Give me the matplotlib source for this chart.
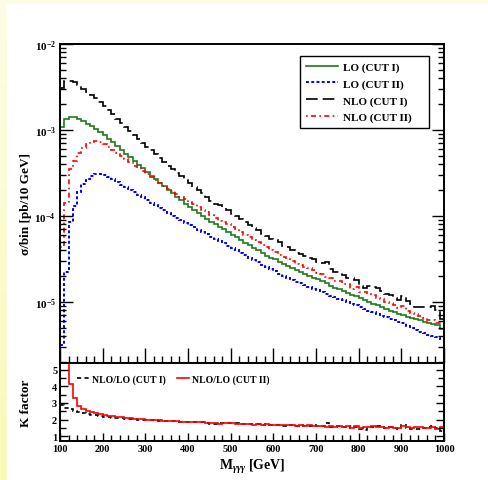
import numpy as np
import matplotlib
matplotlib.use("Agg")
import matplotlib.pyplot as plt
from matplotlib.patches import Rectangle
from matplotlib.ticker import LogLocator, NullFormatter, MultipleLocator

plt.rcParams['font.family'] = ['Liberation Serif', 'DejaVu Serif']
plt.rcParams['font.weight'] = 'bold'
plt.rcParams['mathtext.fontset'] = 'custom'
plt.rcParams['mathtext.rm'] = 'Liberation Serif:bold'
plt.rcParams['mathtext.bf'] = 'Liberation Serif:bold'
plt.rcParams['mathtext.it'] = 'Liberation Serif:italic'

# bin edges, 10 GeV bins from 100 to 1000
edges = np.arange(100, 1001, 10)

# log10 of sigma/bin, one value per bin
lo_cut1_log = [
    -2.97, -2.87, -2.845, -2.85, -2.87, -2.90, -2.925, -2.95, -2.985, -3.02,
    -3.06, -3.10, -3.145, -3.19, -3.235, -3.275, -3.32, -3.36, -3.405, -3.445,
    -3.49, -3.53, -3.57, -3.615, -3.655, -3.695, -3.735, -3.775, -3.815, -3.855,
    -3.89, -3.925, -3.96, -3.995, -4.03, -4.065, -4.095, -4.125, -4.155, -4.185,
    -4.22, -4.25, -4.28, -4.31, -4.34, -4.37, -4.40, -4.43, -4.46, -4.485,
    -4.505, -4.53, -4.555, -4.58, -4.605, -4.63, -4.655, -4.68, -4.70, -4.72,
    -4.735, -4.76, -4.785, -4.81, -4.835, -4.855, -4.875, -4.895, -4.915, -4.935,
    -4.955, -4.975, -4.995, -5.02, -5.04, -5.06, -5.08, -5.10, -5.12, -5.14,
    -5.155, -5.17, -5.185, -5.20, -5.215, -5.23, -5.245, -5.26, -5.27, -5.31]

lo_cut2_log = [
    -5.5, -4.65, -4.07, -3.88, -3.72, -3.63, -3.57, -3.53, -3.51, -3.51,
    -3.525, -3.55, -3.575, -3.605, -3.635, -3.665, -3.695, -3.725, -3.755, -3.785,
    -3.815, -3.845, -3.875, -3.905, -3.935, -3.965, -3.995, -4.025, -4.05, -4.08,
    -4.105, -4.13, -4.16, -4.185, -4.21, -4.24, -4.265, -4.29, -4.32, -4.345,
    -4.37, -4.40, -4.43, -4.455, -4.485, -4.51, -4.54, -4.565, -4.595, -4.62,
    -4.645, -4.67, -4.695, -4.72, -4.745, -4.765, -4.785, -4.805, -4.825, -4.845,
    -4.865, -4.885, -4.905, -4.925, -4.945, -4.96, -4.98, -5.0, -5.02, -5.04,
    -5.06, -5.08, -5.10, -5.12, -5.14, -5.16, -5.18, -5.20, -5.215, -5.23,
    -5.245, -5.285, -5.305, -5.325, -5.345, -5.36, -5.38, -5.395, -5.41, -5.43]

# K factors NLO/LO
k_cut1 = [
    2.85, 2.72, 2.62, 2.53, 2.46, 2.40, 2.34, 2.29, 2.25, 2.21,
    2.18, 2.15, 2.12, 2.10, 2.08, 2.06, 2.04, 2.02, 2.00, 1.99,
    1.97, 1.96, 1.95, 1.94, 1.93, 1.91, 1.90, 1.89, 1.88, 1.86,
    1.86, 1.84, 1.83, 1.83, 1.80, 1.74, 1.70, 1.78, 1.80, 1.79,
    1.77, 1.76, 1.74, 1.72, 1.73, 1.70, 1.72, 1.68, 1.70, 1.67,
    1.66, 1.68, 1.62, 1.66, 1.64, 1.60, 1.65, 1.62, 1.63, 1.66,
    1.58, 1.62, 1.80, 1.56, 1.52, 1.60, 1.55, 1.50, 1.58, 1.55,
    1.40, 1.36, 1.52, 1.56, 1.58, 1.54, 1.50, 1.52, 1.46, 1.44,
    1.68, 1.50, 1.45, 1.40, 1.42, 1.48, 1.52, 1.62, 1.50, 1.30]

k_cut2 = [
    13.8, 6.4, 4.15, 3.28, 2.83, 2.63, 2.52, 2.45, 2.40, 2.35,
    2.28, 2.24, 2.20, 2.17, 2.14, 2.11, 2.08, 2.05, 2.03, 2.01,
    2.00, 1.98, 1.97, 1.95, 1.94, 1.92, 1.91, 1.90, 1.88, 1.87,
    1.86, 1.84, 1.82, 1.82, 1.80, 1.78, 1.76, 1.72, 1.78, 1.79,
    1.76, 1.75, 1.74, 1.73, 1.72, 1.69, 1.71, 1.68, 1.70, 1.69,
    1.68, 1.66, 1.67, 1.64, 1.66, 1.63, 1.65, 1.62, 1.64, 1.63,
    1.58, 1.62, 1.56, 1.60, 1.54, 1.58, 1.55, 1.60, 1.50, 1.62,
    1.48, 1.55, 1.57, 1.58, 1.52, 1.55, 1.50, 1.53, 1.50, 1.46,
    1.58, 1.52, 1.50, 1.53, 1.52, 1.50, 1.48, 1.55, 1.45, 1.55]

lo1 = 10 ** np.array(lo_cut1_log)
lo2 = 10 ** np.array(lo_cut2_log)
nlo1 = lo1 * np.array(k_cut1)
nlo2 = lo2 * np.array(k_cut2)

W, H = 488, 481
fig = plt.figure(figsize=(W / 100, H / 100), dpi=100)

# yellow page with a white sheet on it
bg = fig.add_axes([0, 0, 1, 1], zorder=-10)
grad = np.linspace(0, 1, 256)[:, None]
cmap = matplotlib.colors.LinearSegmentedColormap.from_list('pg', ['#fdfde6', '#f9f9b8'])
bg.imshow(grad, aspect='auto', cmap=cmap, extent=[0, 1, 0, 1])
bg.add_patch(Rectangle((7 / W, 0), 1, 1 - 5 / H, color='white'))
bg.set_xlim(0, 1)
bg.set_ylim(0, 1)
bg.axis('off')

L, R = 60, 444
ax = fig.add_axes([L / W, 1 - 364 / H, (R - L) / W, (364 - 45) / H])
axk = fig.add_axes([L / W, 1 - 442 / H, (R - L) / W, (442 - 364) / H])

ax.stairs(lo1, edges, baseline=None, color='#1c7a1c', lw=1.2, label='LO (CUT I)')
ax.stairs(lo2, edges, baseline=None, color='#0000ff', lw=1.4, ls=(0, (1.5, 1.2)), label='LO (CUT II)')
ax.stairs(nlo1, edges, baseline=None, color='black', lw=1.2, ls=(0, (7, 3)), label='NLO (CUT I)')
ax.stairs(nlo2, edges, baseline=None, color='#ff0000', lw=1.2, ls=(0, (1, 2, 3, 2)), label='NLO (CUT II)')

ax.set_yscale('log')
ax.set_xlim(100, 1000)
ax.set_ylim(10 ** -5.71, 1e-2)
ax.yaxis.set_major_locator(LogLocator(base=10, numticks=10))
ax.yaxis.set_minor_locator(LogLocator(base=10, subs=np.arange(2, 10), numticks=20))
ax.yaxis.set_minor_formatter(NullFormatter())
ax.xaxis.set_major_locator(MultipleLocator(100))
ax.xaxis.set_minor_locator(MultipleLocator(20))
ax.tick_params(axis='x', which='major', direction='in', length=11, width=1, top=False, labelbottom=False)
ax.tick_params(axis='x', which='minor', direction='in', length=5, width=1, top=False)
ax.tick_params(axis='y', which='major', direction='in', length=9, width=1, right=True, labelsize=8, pad=3)
ax.tick_params(axis='y', which='minor', direction='in', length=4.5, width=1, right=True)
ax.set_ylabel('σ/bin [pb/10 GeV]', fontsize=9.5, fontweight='bold')
ax.yaxis.set_label_coords(-0.073, 0.5)

leg = ax.legend(loc='upper left', bbox_to_anchor=(0.625, 0.734, 0.336, 0.228), mode='expand',
                borderaxespad=0, fancybox=False, edgecolor='black', framealpha=1,
                handlelength=2.9, handletextpad=0.5, labelspacing=0.62,
                borderpad=0.5, prop={'weight': 'bold', 'size': 8})
leg.get_frame().set_linewidth(1.0)

axk.stairs(k_cut1, edges, baseline=None, color='black', lw=1.2, ls=(0, (2.5, 2)), label='NLO/LO (CUT I)')
axk.stairs(k_cut2, edges, baseline=None, color='#ff0000', lw=1.2, label='NLO/LO (CUT II)')
axk.set_xlim(100, 1000)
axk.set_ylim(0.7, 5.42)
axk.yaxis.set_major_locator(MultipleLocator(1))
axk.yaxis.set_minor_locator(MultipleLocator(0.5))
axk.xaxis.set_major_locator(MultipleLocator(100))
axk.xaxis.set_minor_locator(MultipleLocator(20))
axk.tick_params(axis='both', which='major', direction='in', length=6, width=1, right=True, top=False,
                labelsize=7.5, pad=2)
axk.tick_params(axis='both', which='minor', direction='in', length=4, width=1, right=True, top=False)
axk.set_ylabel('K factor', fontsize=9.5, fontweight='bold')
axk.yaxis.set_label_coords(-0.073, 0.5)
axk.set_xlabel(r'M$_{\gamma\gamma\gamma}$ [GeV]', fontsize=10, fontweight='bold', labelpad=3)
axk.legend(loc='upper left', bbox_to_anchor=(0.035, 0.91), ncol=2, frameon=False,
           handlelength=1.3, handletextpad=0.25, columnspacing=1.1, borderaxespad=0,
           prop={'weight': 'bold', 'size': 7})

for a in (ax, axk):
    for s in a.spines.values():
        s.set_linewidth(1.4)
    for lab in a.get_xticklabels() + a.get_yticklabels():
        lab.set_fontweight('bold')

fig.savefig('out.png', dpi=100)
